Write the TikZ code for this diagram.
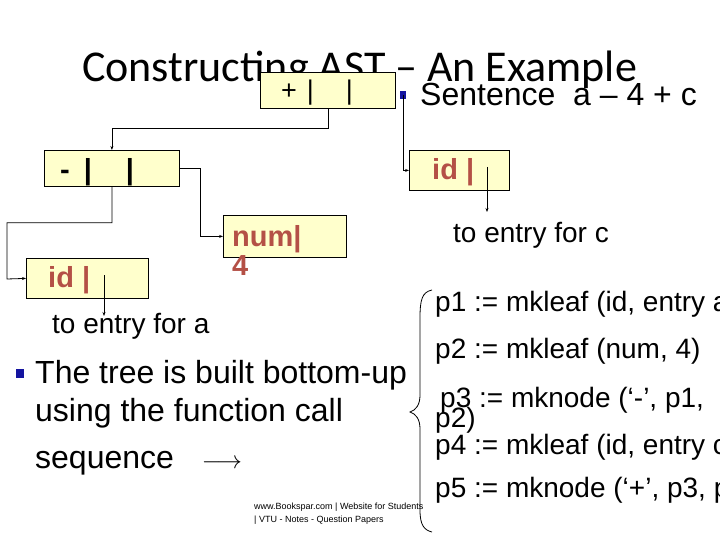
\documentclass[tikz,border=0pt]{standalone}
\usepackage{fontspec}
\setmainfont{Liberation Sans}
\newfontfamily\titlefont{Carlito}
\usetikzlibrary{arrows.meta}

\definecolor{boxfill}{RGB}{255,255,204}
\definecolor{fieldred}{RGB}{180,80,70}
\definecolor{bulletblue}{RGB}{20,20,160}

\begin{document}
\begin{tikzpicture}[x=1pt,y=-1pt,>={Stealth[length=4pt,width=3pt]},
  cell/.style={draw,thick,fill=boxfill,anchor=north west,minimum height=36pt,inner sep=0pt},
  field/.style={font=\bfseries\fontsize{29}{30}\selectfont,text=fieldred},
  link/.style={->,thick},
  body/.style={anchor=base west,font=\fontsize{28}{30}\selectfont,inner sep=0pt}]
	\useasboundingbox (0,0) rectangle (720,540);

	\node[anchor=base west,font=\titlefont\fontsize{44}{48}\selectfont,inner sep=0pt] (title) at (82,82) {Constructing AST – An Example};

	% syntax tree cells
	\node[cell,minimum width=135pt] (plus) at (260,72) {};
	\node[anchor=base west,inner sep=0pt,font=\fontsize{27}{28}\selectfont] at (281,100) {+\hspace{10pt}|\hspace{32pt}|};
	\node[cell,minimum width=135pt] (minus) at (44,150) {};
	\node[anchor=base west,inner sep=0pt,font=\bfseries\fontsize{29}{30}\selectfont] at (60,180) {-\hspace{14pt}|\hspace{34pt}|};
	\node[cell,minimum width=100pt,minimum height=40pt] (idc) at (409,150) {};
	\node[field,anchor=base west,inner sep=0pt] at (432,180) {id |};
	\node[cell,minimum width=123pt,minimum height=42pt] (num) at (223,215) {};
	\node[field,anchor=base west,inner sep=0pt] at (232,246) {num|};
	\node[field,anchor=base west,inner sep=0pt] at (232,275) {4};
	\node[cell,minimum width=122pt,minimum height=40pt] (ida) at (26,258) {};
	\node[field,anchor=base west,inner sep=0pt] at (48,287) {id |};

	\node[body] (entc) at (453,242) {to entry for c};
	\node[body] (enta) at (52,333) {to entry for a};

	% connectors
	\coordinate (bul) at (403,95);
	\fill[bulletblue] ([shift={(-3,-4)}]bul) rectangle ([shift={(3,4)}]bul);
	\draw[link] (plus.south) -- ++(0,20) -| (minus.north);
	\draw[link] (bul) |- (idc.west);
	\draw[link] (minus.east) -- ++(21,0) |- (num.west);
	\draw[link] (minus.south) -- ++(0,36) -| (7,279) -- (ida.west);
	\draw[link] (104,275) -- (104,316);
	\draw[link] (487,167) -- (487,212);

	\node[anchor=base west,font=\fontsize{32}{34}\selectfont,inner sep=0pt] (sent) at (420,106) {Sentence\ \ a – 4 + c};

	% bottom-up text
	\fill[bulletblue] (16,369) rectangle (24,378);
	\node[body,font=\fontsize{32}{34}\selectfont] (l1) at (35,383) {The tree is built bottom-up};
	\node[body,font=\fontsize{32}{34}\selectfont] (l2) at (35,421) {using the function call};
	\node[body,font=\fontsize{32}{34}\selectfont] (l3) at (35,468) {sequence\hspace{28pt}$\longrightarrow$};

	\draw[thick] (432,290) .. controls (422,292) and (420,300) .. (420,318) -- (420,395)
		.. controls (420,405) and (416,410) .. (410,412)
		.. controls (416,414) and (420,419) .. (420,429) -- (420,510)
		.. controls (420,525) and (424,530) .. (432,532);

	\node[body] (p1) at (435,311) {p1 := mkleaf (id, entry a};
	\node[body] (p2) at (435,358) {p2 := mkleaf (num, 4)};
	\node[body] (p3) at (440,407) {p3 := mknode (`-', p1,};
	\node[body] (p3b) at (435,427) {p2)};
	\node[body] (p4) at (435,454) {p4 := mkleaf (id, entry c)};
	\node[body] (p5) at (435,497) {p5 := mknode (`+', p3, p};
	\node[anchor=north west,font=\fontsize{9}{13}\selectfont,align=left,inner sep=0pt] (foot) at (254,503)
		{www.Bookspar.com | Website for Students\\ | VTU - Notes - Question Papers};
\end{tikzpicture}
\end{document}
